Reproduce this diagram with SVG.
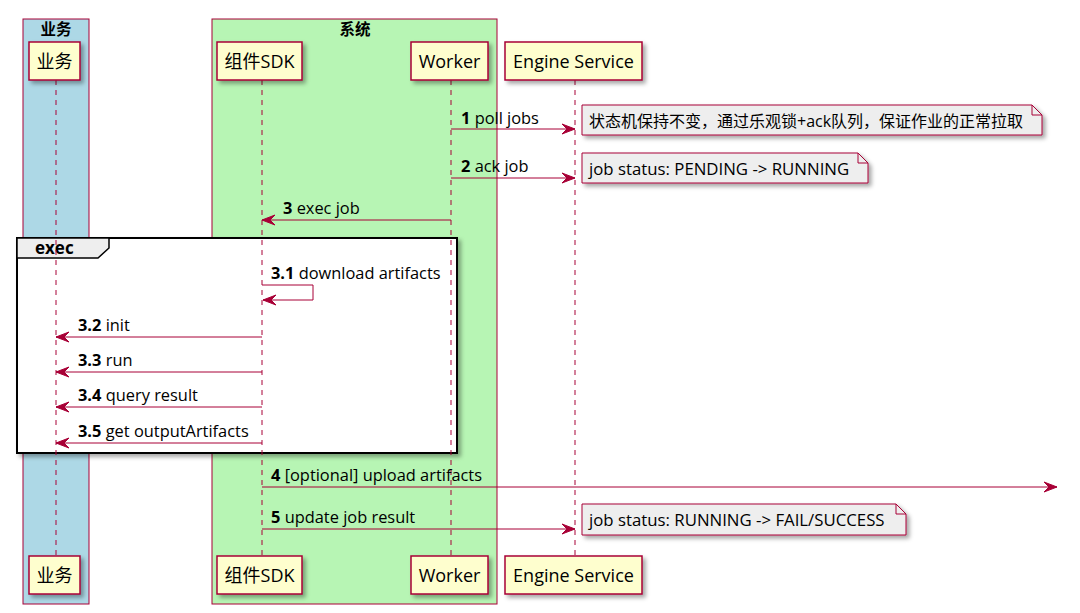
<svg xmlns="http://www.w3.org/2000/svg" width="1080" height="613" viewBox="0 0 1080 613">
<style>
.grp{stroke:#A80036;stroke-width:1;}
.gt{font-family:"Open Sans","Noto Sans CJK SC",sans-serif;font-size:15.5px;font-weight:bold;fill:#000;text-anchor:middle;}
.ft{font-family:"Open Sans","Noto Sans CJK SC",sans-serif;font-size:17px;font-weight:bold;fill:#000;}
.pbox{fill:#FEFECE;stroke:#A80036;stroke-width:1.5;filter:url(#sh);}
.pt{font-family:"Open Sans","Noto Sans CJK SC",sans-serif;font-size:18px;fill:#000;text-anchor:middle;}
.life{stroke:#A80036;stroke-width:1;stroke-dasharray:5,5;fill:none;}
.msg{stroke:#A80036;stroke-width:1;fill:none;marker-end:url(#ah);}
.mt{font-family:"Open Sans","Noto Sans CJK SC",sans-serif;font-size:16.4px;fill:#000;}
.num{font-weight:bold;}
.note{fill:#EEEEEE;stroke:#A80036;stroke-width:1;filter:url(#sh);}
.nt{font-family:"Open Sans","Noto Sans CJK SC",sans-serif;font-size:16.8px;fill:#000;}
.ntc{font-family:"Open Sans","Noto Sans CJK SC",sans-serif;font-size:16px;fill:#000;}
</style>
<defs>
<filter id="sh" x="-10%" y="-20%" width="130%" height="160%">
<feDropShadow dx="3" dy="3" stdDeviation="2" flood-color="#000" flood-opacity="0.35"/>
</filter>
<marker id="ah" markerUnits="userSpaceOnUse" markerWidth="16" markerHeight="12" refX="14" refY="6" orient="auto">
<polygon points="14,6 1,1 6,6 1,11" fill="#A80036" stroke="#A80036" stroke-width="1"/>
</marker>
</defs>
<rect width="1080" height="613" fill="#FFFFFF"/>
<g id="box-business">
<rect class="grp" x="23" y="19" width="66" height="585" fill="#ADD8E6"/>
<text class="gt" x="56" y="35">业务</text>
</g>
<g id="box-system">
<rect class="grp" x="212" y="19" width="285" height="585" fill="#B7F5B4"/>
<text class="gt" x="355" y="35">系统</text>
</g>
<g id="frame-exec">
<rect x="17" y="238" width="440" height="215" fill="#FFFFFF" stroke="#000" stroke-width="2" filter="url(#sh)"/>
<path d="M17,238 H109 V248 L98,258 H17 Z" fill="#EEEEEE" stroke="#000" stroke-width="1.5"/>
<text class="ft" x="35" y="254">exec</text>
</g>
<g id="lifelines">
<line class="life" x1="56" y1="80" x2="56" y2="556"/>
<line class="life" x1="262" y1="80" x2="262" y2="556"/>
<line class="life" x1="451" y1="80" x2="451" y2="556"/>
<line class="life" x1="575" y1="80" x2="575" y2="556"/>
</g>
<g id="p-business">
<rect class="pbox" x="29" y="42" width="51" height="38"/>
<text class="pt" x="54.5" y="68">业务</text>
<rect class="pbox" x="29" y="556" width="51" height="38"/>
<text class="pt" x="54.5" y="582">业务</text>
</g>
<g id="p-sdk">
<rect class="pbox" x="217" y="42" width="85" height="38"/>
<text class="pt" x="259.5" y="68">组件SDK</text>
<rect class="pbox" x="217" y="556" width="85" height="38"/>
<text class="pt" x="259.5" y="582">组件SDK</text>
</g>
<g id="p-worker">
<rect class="pbox" x="411" y="42" width="77" height="38"/>
<text class="pt" x="449.5" y="68">Worker</text>
<rect class="pbox" x="411" y="556" width="77" height="38"/>
<text class="pt" x="449.5" y="582">Worker</text>
</g>
<g id="p-engine">
<rect class="pbox" x="505" y="42" width="137" height="38"/>
<text class="pt" x="573.5" y="68">Engine Service</text>
<rect class="pbox" x="505" y="556" width="137" height="38"/>
<text class="pt" x="573.5" y="582">Engine Service</text>
</g>
<g id="connectors">
<line class="msg" x1="451" y1="129" x2="575" y2="129"/>
<text class="mt" x="461" y="124"><tspan class="num">1</tspan> poll jobs</text>
<line class="msg" x1="451" y1="178" x2="575" y2="178"/>
<text class="mt" x="461" y="172"><tspan class="num">2</tspan> ack job</text>
<line class="msg" x1="451" y1="220" x2="262" y2="220"/>
<text class="mt" x="283" y="214"><tspan class="num">3</tspan> exec job</text>
<path class="msg" d="M262,285 H313 V300 H263"/>
<text class="mt" x="271" y="279"><tspan class="num">3.1</tspan> download artifacts</text>
<line class="msg" x1="262" y1="337" x2="56" y2="337"/>
<text class="mt" x="78" y="331"><tspan class="num">3.2</tspan> init</text>
<line class="msg" x1="262" y1="372" x2="56" y2="372"/>
<text class="mt" x="78" y="366"><tspan class="num">3.3</tspan> run</text>
<line class="msg" x1="262" y1="407" x2="56" y2="407"/>
<text class="mt" x="78" y="401"><tspan class="num">3.4</tspan> query result</text>
<line class="msg" x1="262" y1="443" x2="56" y2="443"/>
<text class="mt" x="78" y="437"><tspan class="num">3.5</tspan> get outputArtifacts</text>
<line class="msg" x1="262" y1="487" x2="1057" y2="487"/>
<text class="mt" x="271" y="481"><tspan class="num">4</tspan> [optional] upload artifacts</text>
<line class="msg" x1="262" y1="529" x2="575" y2="529"/>
<text class="mt" x="271" y="523"><tspan class="num">5</tspan> update job result</text>
</g>
<g id="note-1">
<path class="note" d="M582,105 H1032 L1042,115 V135 H582 Z"/>
<path d="M1032,105 V115 H1042" fill="none" stroke="#A80036" stroke-width="1"/>
<text class="ntc" x="589" y="127">状态机保持不变，通过乐观锁+ack队列，保证作业的正常拉取</text>
</g>
<g id="note-2">
<path class="note" d="M582,153 H858 L868,163 V183 H582 Z"/>
<path d="M858,153 V163 H868" fill="none" stroke="#A80036" stroke-width="1"/>
<text class="nt" x="589" y="175">job status: PENDING -&gt; RUNNING</text>
</g>
<g id="note-3">
<path class="note" d="M582,504 H896 L906,514 V535 H582 Z"/>
<path d="M896,504 V514 H906" fill="none" stroke="#A80036" stroke-width="1"/>
<text class="nt" x="589" y="526">job status: RUNNING -&gt; FAIL/SUCCESS</text>
</g>
</svg>
